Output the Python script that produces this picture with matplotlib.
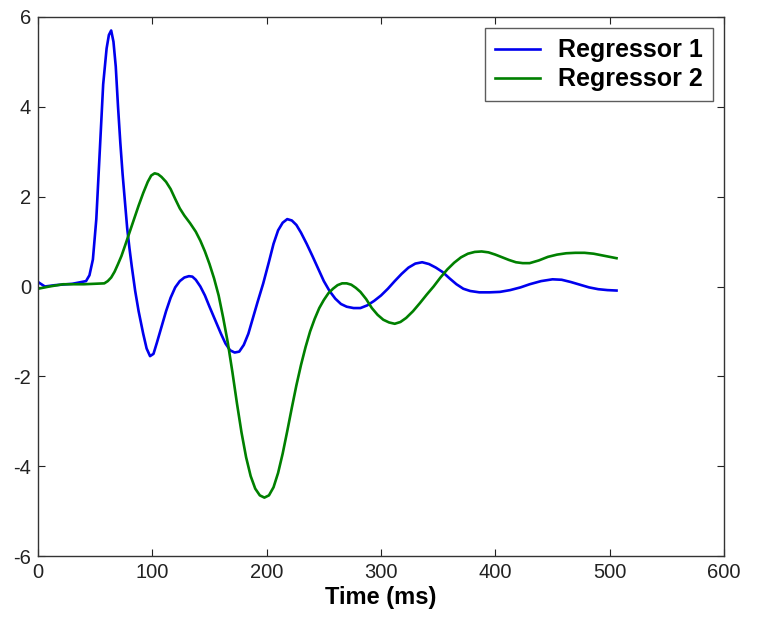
import matplotlib
matplotlib.use("Agg")
import matplotlib.pyplot as plt

plt.rcParams['font.family'] = ['Liberation Sans', 'DejaVu Sans']
plt.rcParams['axes.unicode_minus'] = False

# Regressor 1 (blue)
t1 = [0, 3, 6, 15, 30, 42, 45, 48, 51, 54, 57, 60, 62, 64, 66, 68, 70, 72, 74, 76,
      78, 80, 82, 85, 88, 92, 95, 98, 101, 104, 108, 112, 116, 120, 124, 128, 132,
      135, 138, 142, 146, 150, 155, 160, 164, 168, 172, 176, 180, 184, 188, 192, 197,
      202, 206, 210, 214, 218, 222, 226, 230, 235, 240, 245, 250, 255, 260, 265, 270,
      276, 282, 288, 294, 300, 306, 312, 318, 324, 330, 336, 342, 348, 354, 360, 366,
      372, 378, 386, 395, 404, 413, 422, 430, 440, 450, 458, 466, 474, 482, 490, 498,
      506]
v1 = [0.1, 0.05, 0.0, 0.03, 0.06, 0.12, 0.25, 0.6, 1.5, 3.0, 4.5, 5.3, 5.6, 5.7,
      5.45, 4.9, 4.0, 3.2, 2.5, 1.9, 1.3, 0.85, 0.45, -0.1, -0.55, -1.05, -1.38, -1.55,
      -1.5, -1.25, -0.9, -0.55, -0.25, -0.02, 0.12, 0.2, 0.23, 0.22, 0.15, 0.0, -0.2,
      -0.45, -0.75, -1.05, -1.27, -1.42, -1.47, -1.45, -1.3, -1.05, -0.7, -0.35, 0.07,
      0.55, 0.95, 1.25, 1.42, 1.5, 1.47, 1.37, 1.2, 0.95, 0.68, 0.4, 0.12, -0.1, -0.27,
      -0.39, -0.45, -0.48, -0.48, -0.42, -0.32, -0.2, -0.05, 0.12, 0.28, 0.42, 0.51,
      0.54, 0.5, 0.42, 0.32, 0.18, 0.05, -0.05, -0.1, -0.13, -0.13, -0.12, -0.08,
      -0.02, 0.05, 0.12, 0.16, 0.15, 0.1, 0.04, -0.02, -0.06, -0.08, -0.09]

# Regressor 2 (green)
t2 = [0, 10, 22, 40, 58, 61, 64, 67, 70, 73, 76, 80, 84, 88, 92, 96, 99, 102, 105,
      108, 112, 116, 120, 124, 128, 133, 138, 142, 146, 150, 154, 158, 162, 166, 170,
      174, 178, 182, 186, 190, 194, 198, 202, 206, 210, 214, 218, 222, 226, 230, 234,
      238, 242, 246, 250, 254, 258, 262, 266, 270, 274, 278, 282, 287, 292, 297, 302,
      307, 312, 317, 322, 328, 334, 340, 346, 352, 358, 364, 370, 376, 382, 388, 394,
      400, 406, 412, 418, 424, 430, 438, 446, 454, 462, 470, 478, 486, 494, 500, 506]
v2 = [-0.05, 0.0, 0.05, 0.05, 0.07, 0.12, 0.2, 0.33, 0.5, 0.68, 0.9, 1.2, 1.5, 1.8,
      2.08, 2.33, 2.47, 2.52, 2.5, 2.44, 2.33, 2.17, 1.95, 1.74, 1.58, 1.41, 1.22, 1.02,
      0.78, 0.5, 0.18, -0.2, -0.7, -1.25, -1.9, -2.6, -3.25, -3.8, -4.22, -4.5, -4.65,
      -4.7, -4.65, -4.47, -4.15, -3.72, -3.22, -2.7, -2.2, -1.75, -1.35, -1.0, -0.72,
      -0.48, -0.3, -0.15, -0.05, 0.03, 0.07, 0.07, 0.04, -0.03, -0.12, -0.28, -0.48,
      -0.63, -0.74, -0.8, -0.83, -0.79, -0.7, -0.55, -0.37, -0.18, 0.0, 0.2, 0.38, 0.53,
      0.65, 0.73, 0.77, 0.78, 0.76, 0.71, 0.65, 0.59, 0.54, 0.52, 0.52, 0.58, 0.66,
      0.71, 0.74, 0.75, 0.75, 0.73, 0.69, 0.66, 0.63]

labels = ["Regressor 1", "Regressor 2"]
xticks = [0, 100, 200, 300, 400, 500, 600]
yticks = [-6, -4, -2, 0, 2, 4, 6]

fig = plt.figure(figsize=(7.57, 6.22), dpi=100)
ax = fig.add_axes([38/757, 66/622, 686/757, 539/622])

ax.plot(t1, v1, color='#0000ee', lw=1.9, label=labels[0])
ax.plot(t2, v2, color='#008000', lw=1.9, label=labels[1])

ax.set_xlim(0, 600)
ax.set_ylim(-6, 6)
ax.set_xticks(xticks)
ax.set_yticks(yticks)
ax.tick_params(direction='in', length=5, top=True, right=True, labelsize=14.5, pad=5,
               colors='#222222')
for s in ax.spines.values():
    s.set_linewidth(1.0)
    s.set_color('#333333')

ax.set_xlabel("Time (ms)", fontsize=17, fontweight='bold', labelpad=3)

leg = ax.legend(loc='upper right', prop={'weight': 'bold', 'size': 18},
                frameon=True, fancybox=False, edgecolor='#333333', handlelength=1.8,
                borderaxespad=0.45, labelspacing=0.2, handletextpad=0.7,
                borderpad=0.4)
leg.get_frame().set_linewidth(1.0)

fig.savefig("out.png", dpi=100)
